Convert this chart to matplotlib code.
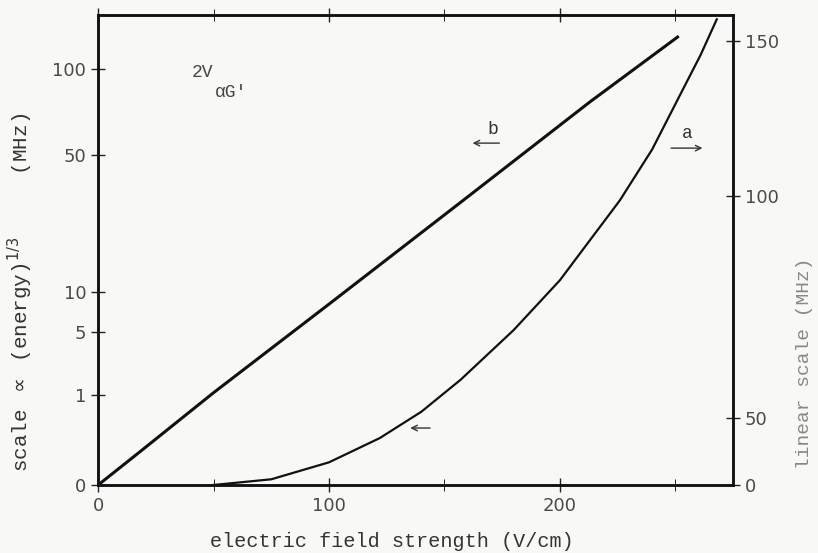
import numpy as np
import matplotlib
matplotlib.use("Agg")
import matplotlib.pyplot as plt

# field strength (V/cm) and splittings (MHz)
field_b = [0, 18, 50, 100, 156, 213, 251]
split_b = [0, 0.05, 1.09, 8.2, 30.7, 77.9, 124.6]

field_a = [50, 75, 100, 122, 140, 157, 180, 200, 226, 240, 251, 261, 268]
split_a = [0, 4.25, 16.9, 35, 51.4, 58.6, 69.8, 81, 99, 115, 131, 145.5, 157]

left_ticks = [0, 1, 5, 10, 50, 100]
right_ticks = [0, 50, 100, 150]
x_ticks = [0, 100, 200]

# the right hand scale is hand ruled: knots of value -> height
right_knots = [0, 50, 100, 150, 300]
right_heights = [0, 67, 289, 444, 909]


def cube(v):
    return np.cbrt(v)


def uncube(v):
    return np.asarray(v) ** 3


def right_fwd(v):
    return np.interp(v, right_knots, right_heights)


def right_inv(v):
    return np.interp(v, right_heights, right_knots)


plt.rcParams['font.family'] = ['DejaVu Sans']
mono = 'Liberation Mono'
ink = '#111111'

fig = plt.figure(figsize=(8.18, 5.53), dpi=100, facecolor='#f8f8f6')
ax = fig.add_axes([0.12, 0.123, 0.776, 0.85])
ax.set_facecolor('#f8f8f6')

ax.set_yscale('function', functions=(cube, uncube))
ax.set_xlim(0, 275)
ax.set_ylim(0, 144)
ax.plot(field_b, split_b, color=ink, lw=2.2)

ax2 = ax.twinx()
ax2.set_yscale('function', functions=(right_fwd, right_inv))
ax2.set_ylim(0, 158.4)
ax2.plot(field_a, split_a, color=ink, lw=1.6)

ax.set_yticks(left_ticks)
ax.set_yticklabels([str(t) for t in left_ticks])
ax2.set_yticks(right_ticks)
ax2.set_yticklabels([str(t) for t in right_ticks])
ax2.yaxis.set_minor_locator(plt.NullLocator())
ax.yaxis.set_minor_locator(plt.NullLocator())
ax.set_xticks(np.arange(0, 276, 50), minor=True)
ax.set_xticks(x_ticks)
ax.set_xticklabels([str(t) for t in x_ticks])

for a in (ax, ax2):
    for s in a.spines.values():
        s.set_linewidth(1.8)
        s.set_color(ink)
    a.tick_params(direction='inout', length=10, width=1, color='#222222',
                  labelcolor='#4a4a4a', labelsize=13)
ax.tick_params(axis='x', which='minor', direction='inout', length=8, top=True)
ax.tick_params(axis='x', which='major', top=True)

ax.set_xlabel('electric field strength (V/cm)', fontfamily=mono, fontsize=14.5,
              color='#333333')
ax.xaxis.set_label_coords(0.463, -0.1)
ax.set_ylabel(r'scale $\propto$ (energy)$^{1/3}$     (MHz)', fontfamily=mono,
              fontsize=15, color='#333333')
ax.yaxis.set_label_coords(-0.1, 0.41)
ax2.set_ylabel('linear scale (MHz)', fontfamily=mono, fontsize=14,
               color='#888888', rotation=90)
ax2.yaxis.set_label_coords(1.1, 0.26)

# 2V with its subscript set as two typewritten pieces
ax.text(40.5, 94, '2V', fontfamily=mono, fontsize=13, color='#444444')
ax.text(50.5, 81, "\u03b1G'", fontfamily=mono, fontsize=13, color='#444444')

ax.text(171, 60, 'b', fontfamily=mono, fontsize=13, color='#333333', ha='center')
ax.annotate('', xy=(161, 55.4), xytext=(175, 55.4),
            arrowprops=dict(arrowstyle='->', color='#333333', lw=1))
ax.text(255, 58, 'a', fontfamily=mono, fontsize=13, color='#333333', ha='center')
ax.annotate('', xy=(263, 53), xytext=(247, 53),
            arrowprops=dict(arrowstyle='->', color='#333333', lw=1))
ax.annotate('', xy=(134, 0.256), xytext=(145, 0.256),
            arrowprops=dict(arrowstyle='->', color='#333333', lw=1))

fig.savefig('out.png', dpi=100, facecolor=fig.get_facecolor())
